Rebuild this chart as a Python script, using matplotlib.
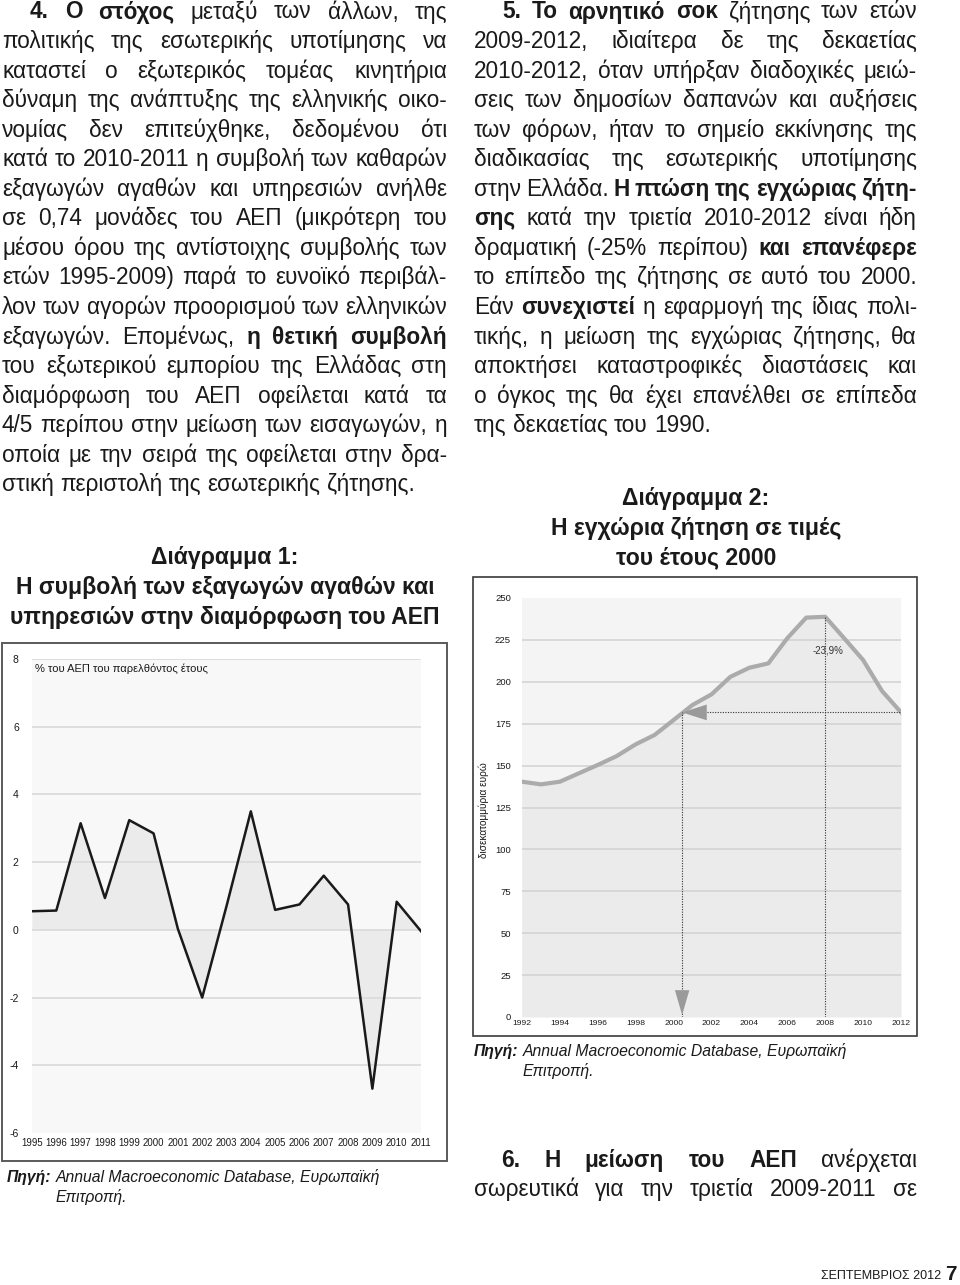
import matplotlib
matplotlib.use('Agg')
import matplotlib.pyplot as plt
from matplotlib.patches import Rectangle, Polygon
from matplotlib import font_manager

W, H = 960, 1285
FONT = ['Liberation Sans', 'DejaVu Sans']
plt.rcParams['font.family'] = FONT

# ---------------- data ----------------
years1 = list(range(1995, 2012))
net_exports = [0.55, 0.57, 3.15, 0.94, 3.24, 2.85, 0.03, -2.0, 0.7, 3.5,
               0.59, 0.75, 1.6, 0.75, -4.69, 0.83, -0.04]
yticks1 = [-6, -4, -2, 0, 2, 4, 6, 8]
ylabel1 = "% του ΑΕΠ του παρελθόντος έτους"

years2 = list(range(1992, 2013))
demand = [140.4, 138.8, 140.4, 145.4, 150.4, 155.7, 162.7, 168.3, 177.2, 186.2,
          192.5, 203.0, 208.4, 211.0, 226.0, 238.3, 238.8, 226.0, 213.0, 194.5, 181.8]
yticks2 = [0, 25, 50, 75, 100, 125, 150, 175, 200, 225, 250]
xticks2 = list(range(1992, 2013, 2))
ylabel2 = "δισεκατομμύρια ευρώ"
drop_pct = -23.9
drop_label = "-23,9%"
cross_year = 2000.45
peak_year = 2008

title1 = ["Διάγραμμα 1:", "Η συμβολή των εξαγωγών αγαθών και", "υπηρεσιών στην διαμόρφωση του ΑΕΠ"]
title2 = ["Διάγραμμα 2:", "Η εγχώρια ζήτηση σε τιμές", "του έτους 2000"]
source_bold = "Πηγή:"
source_text = "Annual Macroeconomic Database, Ευρωπαϊκή"
source_text2 = "Επιτροπή."

left_lines = [
    "**4.  Ο στόχος** μεταξύ των άλλων, της",
    "πολιτικής της εσωτερικής υποτίμησης να",
    "καταστεί ο εξωτερικός τομέας κινητήρια",
    "δύναμη της ανάπτυξης της ελληνικής οικο-",
    "νομίας δεν επιτεύχθηκε, δεδομένου ότι",
    "κατά το 2010-2011 η συμβολή των καθαρών",
    "εξαγωγών αγαθών και υπηρεσιών ανήλθε",
    "σε 0,74 μονάδες του ΑΕΠ (μικρότερη του",
    "μέσου όρου της αντίστοιχης συμβολής των",
    "ετών 1995-2009) παρά το ευνοϊκό περιβάλ-",
    "λον των αγορών προορισμού των ελληνικών",
    "εξαγωγών. Επομένως, **η θετική συμβολή**",
    "του εξωτερικού εμπορίου της Ελλάδας στη",
    "διαμόρφωση του ΑΕΠ οφείλεται κατά τα",
    "4/5 περίπου στην μείωση των εισαγωγών, η",
    "οποία με την σειρά της οφείλεται στην δρα-",
    "στική περιστολή της εσωτερικής ζήτησης.",
]
right_lines = [
    "**5.  Το αρνητικό σοκ** ζήτησης των ετών",
    "2009-2012, ιδιαίτερα δε της δεκαετίας",
    "2010-2012, όταν υπήρξαν διαδοχικές μειώ-",
    "σεις των δημοσίων δαπανών και αυξήσεις",
    "των φόρων, ήταν το σημείο εκκίνησης της",
    "διαδικασίας της εσωτερικής υποτίμησης",
    "στην Ελλάδα. **Η πτώση της εγχώριας ζήτη-**",
    "**σης** κατά την τριετία 2010-2012 είναι ήδη",
    "δραματική (-25% περίπου) **και επανέφερε**",
    "το επίπεδο της ζήτησης σε αυτό του 2000.",
    "Εάν **συνεχιστεί** η εφαρμογή της ίδιας πολι-",
    "τικής, η μείωση της εγχώριας ζήτησης, θα",
    "αποκτήσει καταστροφικές διαστάσεις και",
    "ο όγκος της θα έχει επανέλθει σε επίπεδα",
    "της δεκαετίας του 1990.",
]
bottom_lines = [
    "**6.  Η μείωση του ΑΕΠ** ανέρχεται",
    "σωρευτικά για την τριετία 2009-2011 σε",
]
footer_text = "ΣΕΠΤΕΜΒΡΙΟΣ 2012"
footer_page = "7"

# ---------------- helpers ----------------
fig = plt.figure(figsize=(W / 100, H / 100), dpi=100)
fig.patch.set_facecolor('white')
renderer = fig.canvas.get_renderer()


def fx(x):
    return x / W


def fy(y):
    return 1 - y / H


def rect(x0, y0, x1, y1):
    return [x0 / W, 1 - y1 / H, (x1 - x0) / W, (y1 - y0) / H]


def parse(line):
    toks = []
    for i, p in enumerate(line.split('**')):
        for w in p.split():
            toks.append((w, i % 2 == 1))
    return toks


def twidth(s, size, weight='normal', style='normal'):
    t = fig.text(0, 0, s, fontsize=size, fontweight=weight, fontstyle=style)
    w = t.get_window_extent(renderer).width
    t.remove()
    return w


def space_w(size):
    return twidth("a a", size) - twidth("aa", size)


def fit_size(lines, width, indent_first=0):
    best = 100
    sw = space_w(10)
    for i, ln in enumerate(lines):
        toks = parse(ln)
        s = sum(twidth(w, 10, 'bold' if b else 'normal') for w, b in toks)
        nat = s + 0.85 * sw * (len(toks) - 1)
        avail = width - (indent_first if i == 0 else 0)
        best = min(best, 10 * avail / nat)
    return best


def draw_line(line, x0, x1, ybase, size, justify=True, indent=0, color='#1a1a1a'):
    toks = parse(line)
    texts, widths = [], []
    for w, b in toks:
        t = fig.text(0, 0, w, fontsize=size, fontweight='bold' if b else 'normal',
                     va='baseline', ha='left', color=color)
        texts.append(t)
        widths.append(t.get_window_extent(renderer).width)
    start = x0 + indent
    if justify and len(toks) > 1:
        gap = (x1 - start - sum(widths)) / (len(toks) - 1)
    else:
        gap = space_w(size)
    x = start
    for t, w in zip(texts, widths):
        t.set_position((fx(x), fy(ybase)))
        x += w + gap


# ---------------- body text ----------------
LX0, LX1 = 2, 447
RX0, RX1 = 474, 917
body_size = min(fit_size(left_lines[:-1], LX1 - LX0, 28),
                fit_size(right_lines[:-1], RX1 - RX0, 28))
base0, step = 18.5, 29.55
for i, ln in enumerate(left_lines):
    draw_line(ln, LX0, LX1, base0 + i * step, body_size,
              justify=(i < len(left_lines) - 1), indent=28 if i == 0 else 0)
for i, ln in enumerate(right_lines):
    draw_line(ln, RX0, RX1, base0 + i * step, body_size,
              justify=(i < len(right_lines) - 1), indent=28 if i == 0 else 0)
for i, ln in enumerate(bottom_lines):
    draw_line(ln, RX0, RX1, 1167 + i * 29, body_size, justify=True,
              indent=27 if i == 0 else 0)

# ---------------- chart titles ----------------
tsize = 10 * 430 / twidth(title1[2], 10, 'bold')
for i, s in enumerate(title1):
    fig.text(fx(225), fy(564 + i * 30), s, fontsize=tsize, fontweight='bold',
             ha='center', va='baseline', color='#1a1a1a')
for i, s in enumerate(title2):
    fig.text(fx(696), fy(505 + i * 29.5), s, fontsize=tsize, fontweight='bold',
             ha='center', va='baseline', color='#1a1a1a')

# ---------------- sources ----------------
ssize = 10 * 375 / (twidth(source_bold + " ", 10, 'bold', 'italic') + twidth(source_text, 10, 'normal', 'italic'))
for (sx, sy) in [(7, 1182), (474, 1056)]:
    tb = fig.text(fx(sx), fy(sy), source_bold, fontsize=ssize, fontweight='bold',
                  fontstyle='italic', va='baseline', color='#1a1a1a')
    wb = tb.get_window_extent(renderer).width
    fig.text(fx(sx + wb + space_w(ssize)), fy(sy), source_text, fontsize=ssize,
             fontstyle='italic', va='baseline', color='#1a1a1a')
    fig.text(fx(sx + wb + space_w(ssize)), fy(sy + 20), source_text2, fontsize=ssize,
             fontstyle='italic', va='baseline', color='#1a1a1a')

# ---------------- frames ----------------
fig.add_artist(Rectangle((fx(2), fy(1161)), 445 / W, (1161 - 643) / H,
                         transform=fig.transFigure, fill=False, ec='#5a5a5a', lw=1.4))
fig.add_artist(Rectangle((fx(473), fy(1036)), 444 / W, (1036 - 577) / H,
                         transform=fig.transFigure, fill=False, ec='#3a3a3a', lw=1.2))

# ---------------- chart 1 ----------------
ax1 = fig.add_axes(rect(32, 659, 421, 1133))
ax1.set_facecolor('#f8f8f8')
ax1.fill_between(years1, net_exports, 0, color='#ebebeb', lw=0, zorder=1)
for v in yticks1[1:]:
    ax1.axhline(v, color='#dcdcdc', lw=1.3, zorder=1.5)
ax1.plot(years1, net_exports, color='#1a1a1a', lw=1.8, zorder=3)
ax1.set_xlim(years1[0], years1[-1])
ax1.set_ylim(yticks1[0], yticks1[-1])
ax1.set_yticks(yticks1)
ax1.set_yticklabels([str(v) for v in yticks1])
ax1.set_xticks(years1)
ax1.set_xticklabels([str(y) for y in years1])
ax1.tick_params(axis='y', length=0, labelsize=7.5, pad=9.5, labelcolor='#1a1a1a')
ax1.tick_params(axis='x', length=0, labelsize=6.9, pad=3.5, labelcolor='#1a1a1a')
for s in ax1.spines.values():
    s.set_visible(False)
ax1.text(0.008, 0.979, ylabel1, transform=ax1.transAxes, fontsize=8, va='center',
         ha='left', color='#1a1a1a')

# ---------------- chart 2 ----------------
ax2 = fig.add_axes(rect(522, 598, 901, 1017))
ax2.set_facecolor('#f4f4f4')
ax2.fill_between(years2, demand, 0, color='#ebebeb', lw=0, zorder=1)
for v in yticks2[1:-1]:
    ax2.axhline(v, color='#d2d2d2', lw=1.1, zorder=1.5)
ax2.plot(years2, demand, color='#ababab', lw=3.0, zorder=3, solid_joinstyle='round')
peak = demand[years2.index(peak_year)]
level = peak * (1 + drop_pct / 100)
ax2.plot([cross_year, cross_year], [0, level], ls=(0, (1, 1.3)), color='#333333', lw=0.8, zorder=4)
ax2.plot([peak_year, peak_year], [0, peak], ls=(0, (1, 1.3)), color='#333333', lw=0.8, zorder=4)
ax2.plot([cross_year + 1.3, years2[-1]], [level, level], ls=(0, (1, 1.3)),
         color='#333333', lw=0.8, zorder=4)
ax2.add_patch(Polygon([(cross_year, level), (cross_year + 1.3, level + 4.7),
                       (cross_year + 1.3, level - 4.7)], closed=True,
                      color='#9a9a9a', zorder=5, lw=0))
ax2.add_patch(Polygon([(cross_year, 1.2), (cross_year - 0.38, 16),
                       (cross_year + 0.38, 16)], closed=True,
                      color='#9a9a9a', zorder=5, lw=0))
ax2.text(peak_year + 0.15, 218.5, drop_label, fontsize=7, ha='center', va='center',
         color='#333333', zorder=6)
ax2.set_xlim(years2[0], years2[-1])
ax2.set_ylim(yticks2[0], yticks2[-1])
ax2.set_yticks(yticks2)
ax2.set_yticklabels([str(v) for v in yticks2])
ax2.set_xticks(xticks2)
ax2.set_xticklabels([str(v) for v in xticks2])
ax2.tick_params(axis='y', length=0, labelsize=6.8, pad=8, labelcolor='#1a1a1a')
ax2.tick_params(axis='x', length=0, labelsize=6.1, pad=2.5, labelcolor='#1a1a1a')
for s in ax2.spines.values():
    s.set_visible(False)
fig.text(fx(484), fy(810), ylabel2, rotation=90, fontsize=7.3, ha='center', va='center',
         color='#1a1a1a')

# ---------------- footer ----------------
try:
    font_manager.findfont(font_manager.FontProperties(family='Liberation Sans Narrow'),
                          fallback_to_default=False)
    narrow = ['Liberation Sans Narrow', 'DejaVu Sans']
except Exception:
    narrow = FONT
fig.text(fx(941), fy(1279), footer_text, family=narrow, fontsize=9, ha='right',
         va='baseline', color='#1a1a1a')
fig.text(fx(945), fy(1280), footer_page, family=narrow, fontsize=15, fontweight='bold',
         ha='left', va='baseline', color='#1a1a1a')

fig.savefig('out.png', dpi=100, facecolor='white')
